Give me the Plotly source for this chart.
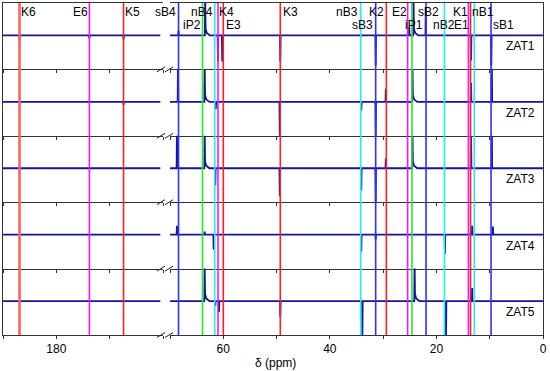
import plotly.graph_objects as go
from plotly.subplots import make_subplots

# ---------------- data ----------------
spectra_names = ["ZAT1", "ZAT2", "ZAT3", "ZAT4", "ZAT5"]

# peaks: (ppm, intensity, shape)  shape: "s" = sharp spike, "t" = spike with decay tail
peaks_left = {
    "ZAT1": [(186.9, -5, "s"), (173.8, -3, "s"), (167.4, -4, "s")],
    "ZAT2": [(167.4, -3, "s")],
    "ZAT3": [],
    "ZAT4": [],
    "ZAT5": [],
}
peaks_right = {
    "ZAT1": [(68.4, 5, "s"), (63.4, 40, "t"), (61.0, -26, "s"), (60.2, -26, "s"),
             (49.3, -26, "s"), (31.4, -30, "s"), (25.1, 8, "s"), (24.3, 40, "t"),
             (22.0, 28, "s"), (13.5, -25, "s"), (9.7, -30, "s")],
    "ZAT2": [(68.5, 40, "s"), (63.5, 40, "t"), (61.4, -7, "s"), (49.4, -35, "s"),
             (34.1, -9, "s"), (31.4, -35, "s"), (29.5, 13, "s"), (24.5, 40, "t"),
             (13.5, 19, "s"), (9.6, 40, "s")],
    "ZAT3": [(68.7, 40, "s"), (63.5, 40, "t"), (61.5, -17, "s"), (49.4, -28, "s"),
             (34.1, -22, "s"), (31.4, -35, "s"), (29.5, 10, "s"), (24.5, 40, "t"),
             (13.5, 40, "s"), (9.6, 40, "s")],
    "ZAT4": [(68.7, 9, "s"), (63.5, 3, "s"), (61.8, -15, "s"), (34.1, -17, "s"),
             (31.4, -5, "s"), (18.4, -19, "s"), (13.3, 9, "s"), (9.4, 8, "s")],
    "ZAT5": [(63.5, 40, "t"), (61.5, -5, "s"), (60.8, -11, "s"), (49.3, -16, "s"),
             (33.9, -40, "s"), (24.1, 40, "t"), (18.2, -40, "s"), (13.3, 13, "s")],
}

# reference lines: label, ppm, colour group, label row
ref_labels = ["K6", "E6", "K5", "sB4", "iP2", "nB4", "E3", "K4", "K3", "nB3", "sB3",
              "K2", "E2", "iP1", "sB2", "nB2", "E1", "K1", "nB1", "sB1"]
ref_ppm = [186.9, 173.8, 167.4, 68.4, 63.9, 61.6, 61.0, 60.0, 49.3, 34.2, 31.4,
           29.4, 25.4, 24.6, 21.95, 18.5, 14.0, 13.6, 12.9, 9.75]
ref_group = ["K", "E", "K", "sB", "iP", "nB", "E", "K", "K", "nB", "sB",
             "K", "E", "iP", "sB", "nB", "E", "K", "nB", "sB"]
label_row = [1, 1, 1, 1, 2, 1, 2, 1, 1, 1, 2, 1, 1, 2, 1, 2, 2, 1, 1, 2]
label_shift = [9, -9, 9, -13, -11, -12.5, 16, 3, 10, -13.7, -13.5,
               -9.5, -8, 2.5, 2, -0.5, -6.5, -10.5, 8.5, 12]

left_range = [190, 160]
right_range = [70, 0]
left_tickvals = [180]
right_tickvals = [60, 40, 20, 0]

# ---------------- styles ----------------
group_color = {"K": "#ff2020", "E": "#ff10ff", "sB": "#3030ff", "iP": "#20f020", "nB": "#20f0f0"}
spec_color = "#1414a0"
AXC = "#333"
FONT = "Liberation Sans, Arial, sans-serif"

fig = make_subplots(rows=5, cols=2, column_widths=[160, 373],
                    horizontal_spacing=7 / 540, vertical_spacing=0)


def build(peaks, start, end):
    xs, ys = [start], [0]
    for p, h, kind in sorted(peaks, key=lambda t: -t[0]):
        xs += [p + 0.06, p]
        ys += [0, h]
        if kind == "t":
            xs += [p - 0.08, p - 0.3, p - 0.9]
            ys += [7, 2.5, 0]
        else:
            xs += [p - 0.06]
            ys += [0]
    xs.append(end)
    ys.append(0)
    return xs, ys


for i, name in enumerate(spectra_names):
    r = i + 1
    xl, yl = build(peaks_left[name], left_range[0], 160.5)
    fig.add_trace(go.Scatter(x=xl, y=yl, mode="lines", line=dict(color=spec_color, width=1.8),
                             showlegend=False, hoverinfo="skip"), row=r, col=1)
    xr, yr = build(peaks_right[name], right_range[0], right_range[1])
    fig.add_trace(go.Scatter(x=xr, y=yr, mode="lines", line=dict(color=spec_color, width=1.8),
                             showlegend=False, hoverinfo="skip"), row=r, col=2)
    fig.add_annotation(text=name, xref="paper", x=0.9889, xanchor="right",
                       yref="y%d" % (2 * r), y=-11, yanchor="middle", showarrow=False,
                       font=dict(family=FONT, size=12, color="black"))

for r in range(1, 6):
    last = r == 5
    common = dict(showline=True, linecolor=AXC, linewidth=1, mirror=(r == 1),
                  ticks="outside", ticklen=3, tickcolor=AXC, showgrid=False, zeroline=False,
                  showticklabels=last, tickfont=dict(family=FONT, size=12, color="black"),
                  minor=dict(dtick=10, ticks="outside", ticklen=3, tickcolor=AXC))
    fig.update_xaxes(range=left_range, tickvals=left_tickvals, row=r, col=1, **common)
    fig.update_xaxes(range=right_range, tickvals=right_tickvals, row=r, col=2, **common)
    fig.update_yaxes(range=[-34, 32.5], showticklabels=False, ticks="", showgrid=False,
                     zeroline=False, showline=True, linecolor=AXC, linewidth=1, row=r, col=1)
    fig.update_yaxes(range=[-34, 32.5], showticklabels=False, ticks="", showgrid=False,
                     zeroline=False, showline=True, linecolor=AXC, linewidth=1, side="right",
                     row=r, col=2)

# reference lines and labels
row_y = {1: 0.9715, 2: 0.9352}
for lab, ppm, grp, lr, sh in zip(ref_labels, ref_ppm, ref_group, label_row, label_shift):
    xref = "x" if ppm > 100 else "x2"
    w = 2.6 if lab == "K6" else 1.6
    col = "#ff6060" if lab == "K6" else group_color[grp]
    fig.add_shape(type="line", xref=xref, yref="paper", x0=ppm, x1=ppm, y0=0, y1=1,
                  line=dict(color=col, width=w))
    fig.add_annotation(text=lab, xref=xref, x=ppm, xshift=sh, yref="paper", y=row_y[lr],
                       showarrow=False, xanchor="center", yanchor="middle",
                       font=dict(family=FONT, size=12, color="black"))

# axis break marks
for k in range(5):
    yb = k / 5
    for xa, xb in [(0.285, 0.300), (0.300, 0.315)]:
        fig.add_shape(type="line", xref="paper", yref="paper", x0=xa, x1=xb,
                      y0=yb - 0.0075, y1=yb + 0.0075, line=dict(color="#222", width=1))

fig.add_annotation(text="δ (ppm)", xref="paper", x=0.504, yref="paper", y=-0.084,
                   showarrow=False, yanchor="middle",
                   font=dict(family=FONT, size=12, color="black"))

fig.update_layout(width=550, height=371, margin=dict(l=3, r=7, t=3, b=36),
                  plot_bgcolor="white", paper_bgcolor="white")

fig.write_html("out.html", config={"displayModeBar": False},
               post_script="document.body.style.margin='0';document.body.style.overflow='hidden';")
